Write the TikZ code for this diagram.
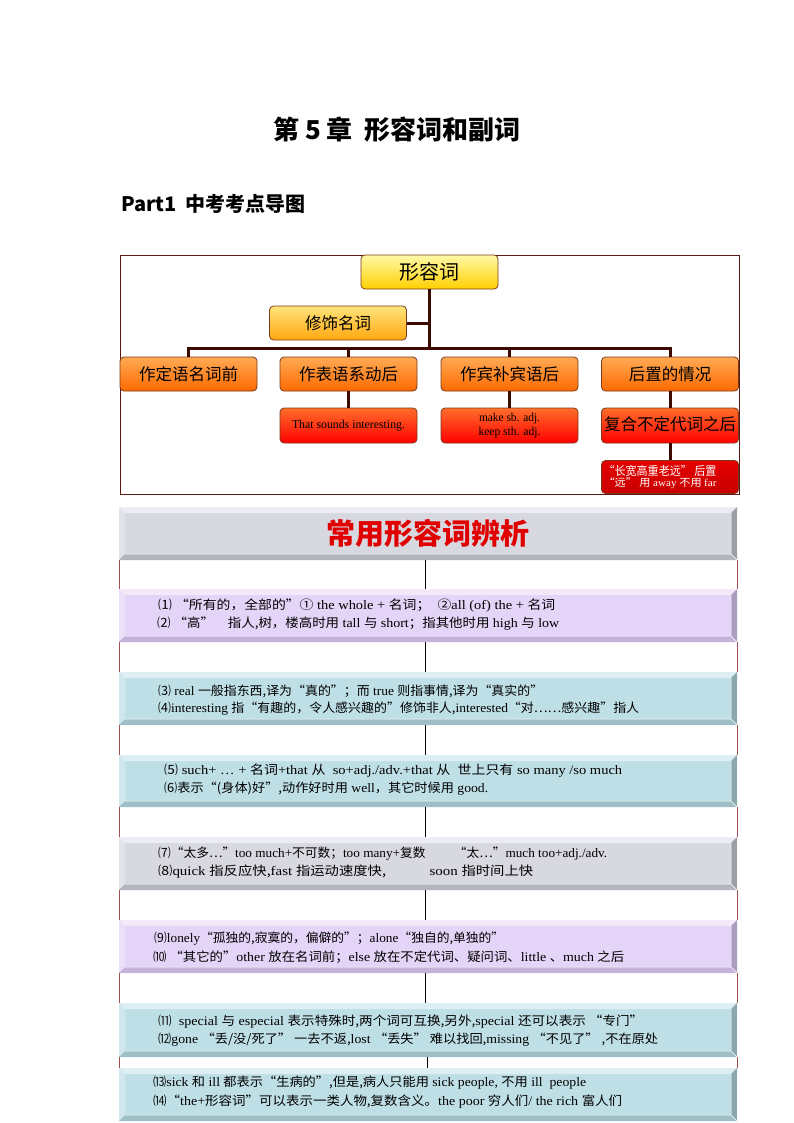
\documentclass[tikz,border=0pt]{standalone}
\usepackage{fontspec}
\usepackage{graphicx}
\setmainfont{Liberation Serif}
\newfontfamily\zhfont{Noto Sans CJK SC}
\newcommand\zhs[1]{{\zhfont\fontsize{12.5}{14}\selectfont #1}}
\newcommand\fitline[2]{\resizebox{#1pt}{\height}{#2}}
\definecolor{frameline}{HTML}{5A1A12}
\definecolor{connc}{HTML}{3D0A02}
\definecolor{boxline}{HTML}{7A3A1A}
\definecolor{yAt}{HTML}{FFF9A8}
\definecolor{yAb}{HTML}{FFD000}
\definecolor{yBt}{HTML}{FFE47A}
\definecolor{yBb}{HTML}{FFA810}
\definecolor{oT}{HTML}{FFAA55}
\definecolor{oB}{HTML}{FF6A00}
\definecolor{rT}{HTML}{FF6E2A}
\definecolor{rB}{HTML}{FF0000}
\definecolor{dT}{HTML}{E60000}
\definecolor{dB}{HTML}{C80000}
\definecolor{gface}{HTML}{D7D8E0}
\definecolor{glight}{HTML}{ECEDF2}
\definecolor{gdark}{HTML}{B2B4BE}
\definecolor{pface}{HTML}{E4D4F7}
\definecolor{plight}{HTML}{F2EAFB}
\definecolor{pdark}{HTML}{C4B2DA}
\definecolor{bface}{HTML}{BFDFE6}
\definecolor{blight}{HTML}{DDEFF2}
\definecolor{bdark}{HTML}{9EBFC6}
\definecolor{hdrred}{HTML}{E00000}
\definecolor{sidec}{HTML}{A05050}
\newcommand\bevelrow[8]{%
  \fill[#6] (#2,#3) rectangle (#4,#5);
  \fill[#7] (#2,#3) -- (#4,#3) -- (#4-6,#3+6) -- (#2+6,#3+6) -- cycle;
  \fill[#7!55!#6] (#2,#3) -- (#2+6,#3+6) -- (#2+6,#5-6) -- (#2,#5) -- cycle;
  \fill[#8] (#2,#5) -- (#2+6,#5-6) -- (#4-6,#5-6) -- (#4,#5) -- cycle;
  \fill[#8!88!black] (#4,#3) -- (#4-6,#3+6) -- (#4-6,#5-6) -- (#4,#5) -- cycle;
  \draw[white,line width=0.5pt] (#4-6,#5-6) -- (#4,#5) (#2+6,#5-6) -- (#4-6,#5-6) -- (#4-6,#3+6);
  \node[inner sep=0pt,outer sep=0pt,minimum width={#4-#2},minimum height={#5-#3}] (#1) at ({(#2+#4)/2},{(#3+#5)/2}) {};
}
\tikzset{
  box/.style={draw=boxline,line width=0.8pt,rounded corners=4pt,minimum width=137pt,minimum height=34pt,inner sep=0pt,align=center},
  lvA/.style={box,top color=yAt,bottom color=yAb,font=\zhfont\fontsize{20}{24}\selectfont},
  lvB/.style={box,top color=yBt,bottom color=yBb,font=\zhfont\fontsize{16.5}{20}\selectfont},
  lvC/.style={box,top color=oT,bottom color=oB,font=\zhfont\fontsize{16.5}{20}\selectfont},
  lvD/.style={box,top color=rT,bottom color=rB,minimum height=35pt},
  lvE/.style={box,top color=dT,bottom color=dB},
  conn/.style={draw=connc,line width=3pt},
  rowtext/.style={anchor=west,inner sep=0pt,font=\fontsize{13}{15}\selectfont},
  sideln/.style={draw=sidec,line width=0.8pt},
  midln/.style={draw=black,line width=0.9pt}
}
\begin{document}
\begin{tikzpicture}[x=1pt,y=-1pt]
\useasboundingbox (0,0) rectangle (794,1123);
% titles
\node[font=\zhfont\bfseries\fontsize{26}{30}\selectfont] (title) at (397,130) {第 5 章\ \ 形容词和副词};
\node[anchor=west,inner sep=0pt,font=\zhfont\bfseries\fontsize{20}{24}\selectfont] (part) at (121,204) {Part1\ \ 中考考点导图};
% top frame
\draw[frameline,line width=0.9pt] (120.5,255) rectangle (739.5,494);
% nodes
\node[lvA] (adj) at (429.5,272) {形容词};
\node[lvB] (xiu) at (338,323) {修饰名词};
\node[lvC] (d1) at (188.5,374) {作定语名词前};
\node[lvC] (d2) at (348.5,374) {作表语系动后};
\node[lvC] (d3) at (509.5,374) {作宾补宾语后};
\node[lvC] (d4) at (670,374) {后置的情况};
\node[lvD,font=\fontsize{12}{14}\selectfont] (e2) at (348.5,425.5) {\raisebox{3pt}{\fitline{113}{That sounds interesting.}}};
\node[lvD,font=\fontsize{12}{14}\selectfont] (e3) at (509.5,425.5) {\raisebox{3pt}{\shortstack{\fitline{61}{make sb. adj.}\\\fitline{62}{keep sth. adj.}}}};
\node[lvD,font=\zhfont\fontsize{16.5}{20}\selectfont] (e4) at (670,425.5) {\raisebox{3pt}{复合不定代词之后}};
\node[lvE,minimum height=33pt] (f4) at (670,477) {};
\node[inner sep=0pt,align=center,text=white] (f4t) at (660,477) {\fitline{113}{\zhfont\fontsize{12}{14}\selectfont “长宽高重老远” 后置}\\[-1pt]\fitline{113}{\zhfont\fontsize{10.5}{12}\selectfont “远” 用 \rmfamily away \zhfont 不用 \rmfamily far}};
% connectors
\coordinate (bus) at (429.5,348);
\draw[conn] (adj.south) -- (adj.south |- bus);
\draw[conn] (xiu.east) -- (xiu.east -| adj.south);
\draw[conn] (d1.north) -- (d1.north |- bus) -- (d4.north |- bus) -- (d4.north);
\draw[conn] (d2.north) -- (d2.north |- bus);
\draw[conn] (d3.north) -- (d3.north |- bus);
\draw[conn] (d2.south) -- (e2.north);
\draw[conn] (d3.south) -- (e3.north);
\draw[conn] (d4.south) -- (e4.north);
\draw[conn] (e4.south) -- (f4.north);
% table rows
\bevelrow{row0}{119}{507}{737}{560}{gface}{glight}{gdark}
\bevelrow{row1}{119}{589}{737}{642}{pface}{plight}{pdark}
\bevelrow{row2}{119}{672}{737}{725}{bface}{blight}{bdark}
\bevelrow{row3}{119}{755}{737}{807}{bface}{blight}{bdark}
\bevelrow{row4}{119}{837}{737}{890}{gface}{glight}{gdark}
\bevelrow{row5}{119}{920}{737}{973}{pface}{plight}{pdark}
\bevelrow{row6}{119}{1003}{737}{1057}{bface}{blight}{bdark}
\bevelrow{row7}{119}{1068}{737}{1121}{bface}{blight}{bdark}
\node[font=\zhfont\bfseries\fontsize{29}{32}\selectfont,text=hdrred] (hdr) at (428,533) {常用形容词辨析};
% gap lines
\foreach \a/\b/\s in {row0/row1/-3,row1/row2/-3,row2/row3/-3,row3/row4/-3,row4/row5/-3,row5/row6/-3,row6/row7/-1}{
  \draw[sideln] ([xshift=0.5pt]\a.south west) -- ([xshift=0.5pt]\b.north west);
  \draw[sideln] ([xshift=0.5pt]\a.south east) -- ([xshift=0.5pt]\b.north east);
  \draw[midln] ([xshift=\s pt]\a.south) -- ([xshift=\s pt]\b.north);
}
% row texts
\node[rowtext] (t1a) at (158,606) {\fitline{397}{\zhs{⑴ “所有的，全部的”①} the whole + \zhs{名词；}\ \ \zhs{②}all (of) the + \zhs{名词}}};
\node[rowtext] (t1b) at (157,624) {\fitline{402}{\zhs{⑵ “高”}\quad\zhs{指人,树，楼高时用} tall \zhs{与} short\zhs{；指其他时用} high \zhs{与} low}};
\node[rowtext] (t2a) at (158,691) {\fitline{385}{\zhs{⑶}\ real \zhs{一般指东西,译为“真的”；而} true \zhs{则指事情,译为“真实的”}}};
\node[rowtext] (t2b) at (158,709) {\fitline{481}{\zhs{⑷}interesting \zhs{指“有趣的，令人感兴趣的”修饰非人,}interested\zhs{“对……感兴趣”指人}}};
\node[rowtext] (t3a) at (164,771) {\fitline{458}{\zhs{⑸}\ such+ … + \zhs{名词}+that \zhs{从}\ \ so+adj./adv.+that \zhs{从}\ \ \zhs{世上只有} so many /so much}};
\node[rowtext] (t3b) at (164,789) {\fitline{324}{\zhs{⑹表示“(身体)好”,动作好时用} well\zhs{，其它时候用} good.}};
\node[rowtext] (t4a) at (158,854) {\fitline{449}{\zhs{⑺“太多…”}too much+\zhs{不可数；}too many+\zhs{复数}\hspace{28pt}\zhs{“太…”}much too+adj./adv.}};
\node[rowtext] (t4b) at (158,872) {\fitline{375}{\zhs{⑻}quick \zhs{指反应快,}fast \zhs{指运动速度快,}\hspace{38pt}soon \zhs{指时间上快}}};
\node[rowtext] (t5a) at (154,939) {\fitline{350}{\zhs{⑼}lonely\zhs{“孤独的,寂寞的，偏僻的”；}alone\zhs{“独自的,单独的”}}};
\node[rowtext] (t5b) at (153,957) {\fitline{471}{\zhs{⑽ “其它的”}other \zhs{放在名词前；}else \zhs{放在不定代词、疑问词、}little \zhs{、}much \zhs{之后}}};
\node[rowtext] (t6a) at (158,1022) {\fitline{485}{\zhs{⑾}\ \ special \zhs{与} especial \zhs{表示特殊时,两个词可互换,另外,}special \zhs{还可以表示 “专门”}}};
\node[rowtext] (t6b) at (158,1040) {\fitline{500}{\zhs{⑿}gone \zhs{“丢/没/死了” 一去不返,}lost \zhs{“丢失” 难以找回,}missing \zhs{“不见了” ,不在原处}}};
\node[rowtext] (t7a) at (153,1083) {\fitline{433}{\zhs{⒀}sick \zhs{和} ill \zhs{都表示“生病的”,但是,病人只能用} sick people,\ \zhs{不用} ill\ \ people}};
\node[rowtext] (t7b) at (153,1102) {\fitline{469}{\zhs{⒁“}the+\zhs{形容词”可以表示一类人物,复数含义。}the poor \zhs{穷人们}/ the rich \zhs{富人们}}};
\end{tikzpicture}
\end{document}
